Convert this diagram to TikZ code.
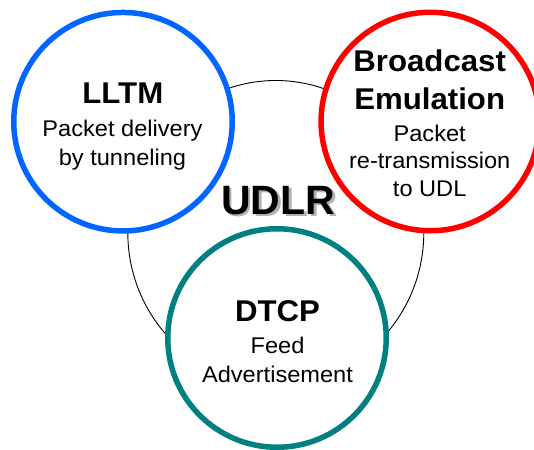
\documentclass[tikz,border=0pt]{standalone}
\usepackage{fontspec}
\setmainfont{Liberation Sans}
\newfontfamily\capfont{Liberation Sans}[FakeStretch=1.04]
\usetikzlibrary{shapes.geometric}
\definecolor{ringblue}{RGB}{0,102,255}
\definecolor{ringred}{RGB}{255,0,0}
\definecolor{ringteal}{RGB}{0,128,128}
\tikzset{
  ring/.style={circle, draw=#1, fill=white, line width=5.5pt,
    minimum size=218.5pt, inner sep=0pt, outer sep=0pt},
  headline/.style={anchor=base, inner sep=0pt,
    font=\capfont\fontsize{30}{30}\selectfont\bfseries},
  bodyline/.style={anchor=base, inner sep=0pt,
    font=\capfont\fontsize{22.7}{22.7}\selectfont},
}
% bold word with a light grey drop shadow behind it
\newcommand{\shadowword}[1]{%
  \makebox[0pt][l]{\hspace{2.5pt}\raisebox{-2.5pt}{\color{black!30}#1}}#1}
\begin{document}
\begin{tikzpicture}[x=1pt, y=-1pt]
  \useasboundingbox (0,0) rectangle (534,449);

  % thin outline joining the three parts
  \node (hub) [ellipse, draw=black, line width=0.9pt,
    minimum width=296pt, minimum height=304pt, inner sep=0pt]
    at (275.8,232.5) {};

  % the three component rings
  \node (lltm) [ring=ringblue] at (123,121.7) {};
  \node (bcast) [ring=ringred] at (430.3,121.5) {};
  \node (dtcp) [ring=ringteal] at (277,338) {};

  % central label
  \node (udlr) [anchor=base, inner sep=0pt,
    font=\fontsize{41}{41}\selectfont\bfseries] at (278.3,214.3)
    {\shadowword{UDLR}};

  % LLTM
  \node (lltmtitle) [headline] at (122.8,104) {LLTM};
  \node (lltmtxta) [bodyline] at (122.5,136.7) {Packet delivery};
  \node (lltmtxtb) [bodyline] at (122.5,165) {by tunneling};

  % Broadcast Emulation
  \node (bctitlea) [headline] at (429.7,71.7) {Broadcast};
  \node (bctitleb) [headline] at (429.7,109.3) {Emulation};
  \node (bctxta) [bodyline] at (429.7,141.7) {Packet};
  \node (bctxtb) [bodyline] at (429.7,168.3) {re-transmission};
  \node (bctxtc) [bodyline] at (429.7,196.7) {to UDL};

  % DTCP
  \node (dtcptitle) [headline] at (277.5,321.7) {DTCP};
  \node (dtcptxta) [bodyline] at (277.5,353.3) {Feed};
  \node (dtcptxtb) [bodyline] at (277.5,382.7) {Advertisement};
\end{tikzpicture}
\end{document}
